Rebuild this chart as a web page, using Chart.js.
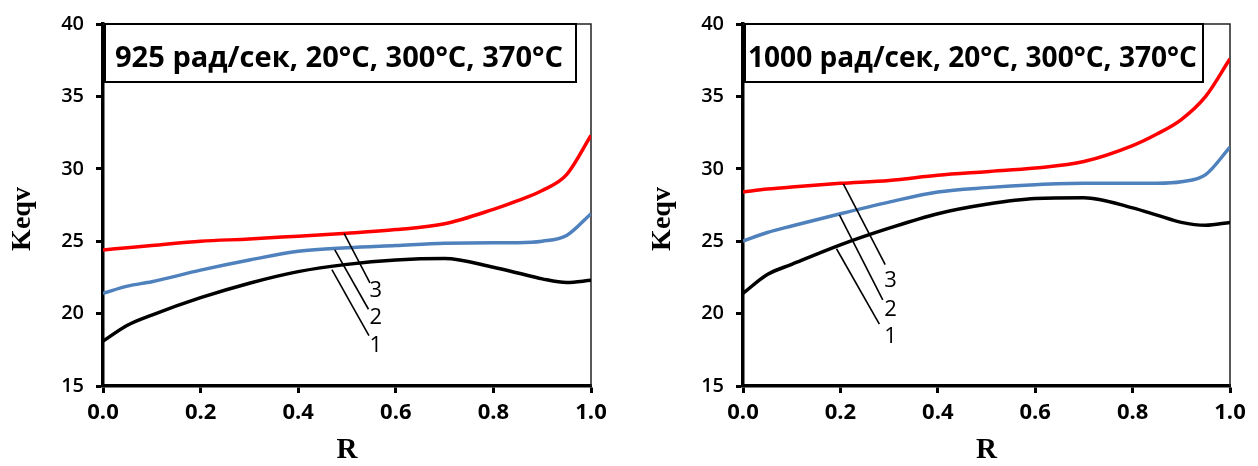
<!DOCTYPE html>
<html>
<head>
<meta charset="utf-8">
<script src="https://cdn.jsdelivr.net/npm/chart.js@4.4.1/dist/chart.umd.min.js"></script>
<style>
  html, body { margin: 0; padding: 0; background: #fff; }
  .wrap { position: absolute; top: 0; width: 629px; height: 466px; }
  #w1 { left: 0; }
  #w2 { left: 629px; }
</style>
</head>
<body>
<div class="wrap" id="w1"><canvas id="c925"></canvas></div>
<div class="wrap" id="w2"><canvas id="c1000"></canvas></div>
<script>
// R values shared by all curves
const R = [0, 0.05, 0.1, 0.2, 0.3, 0.4, 0.5, 0.6, 0.7, 0.8, 0.85, 0.9, 0.95, 1.0];

// 925 рад/сек
const k925_20  = [18.1, 19.2, 19.9, 21.1, 22.1, 22.9, 23.4, 23.7, 23.8, 23.2, 22.8, 22.4, 22.15, 22.3];
const k925_300 = [21.4, 21.9, 22.2, 23.0, 23.7, 24.3, 24.55, 24.7, 24.85, 24.9, 24.9, 25.0, 25.4, 26.9];
const k925_370 = [24.4, 24.55, 24.7, 25.0, 25.15, 25.35, 25.55, 25.8, 26.2, 27.2, 27.8, 28.5, 29.6, 32.3];

// 1000 рад/сек
const k1000_20  = [21.4, 22.7, 23.4, 24.75, 25.9, 26.9, 27.55, 27.95, 28.0, 27.3, 26.8, 26.3, 26.1, 26.3];
const k1000_300 = [25.0, 25.6, 26.05, 26.9, 27.7, 28.4, 28.7, 28.9, 29.0, 29.0, 29.0, 29.1, 29.6, 31.5];
const k1000_370 = [28.4, 28.6, 28.75, 29.0, 29.2, 29.55, 29.8, 30.05, 30.5, 31.6, 32.4, 33.4, 35.0, 37.6];

// leader lines: [R start, K start, R end, K end]  and label anchor [R, K]
const lead925  = [[0.469, 23.04, 0.545, 18.48], [0.475, 24.4, 0.544, 20.3], [0.494, 25.54, 0.547, 22.13]];
const lab925   = [[0.559, 17.8], [0.559, 19.73], [0.559, 21.56]];
const lead1000 = [[0.192, 24.48, 0.280, 19.28], [0.198, 26.82, 0.287, 20.95], [0.206, 28.96, 0.292, 23.38]];
const lab1000  = [[0.303, 18.37], [0.303, 20.24], [0.303, 22.24]];
const curveNames = ['1', '2', '3'];

const yMin = 15, yMax = 40, yStep = 5;
const xMin = 0, xMax = 1, xStep = 0.2;
const yTitle = 'Keqv', xTitle = 'R';

const COLORS = ['#000000', '#4f81bd', '#ff0000'];

const framePlugin = {
  id: 'frame',
  beforeDatasetsDraw(chart) {
    const { ctx, chartArea: a } = chart;
    ctx.save();
    ctx.strokeStyle = '#222';
    ctx.lineWidth = 1.5;
    ctx.beginPath();
    ctx.moveTo(a.left, a.top);
    ctx.lineTo(a.right, a.top);
    ctx.lineTo(a.right, a.bottom);
    ctx.stroke();
    ctx.restore();
  },
  afterDraw(chart) {
    // y axis title, sits a bit below the axis middle like the original
    const { ctx, chartArea: a } = chart;
    ctx.save();
    ctx.fillStyle = '#000';
    ctx.font = 'bold 28px "Liberation Serif"';
    ctx.textAlign = 'center';
    ctx.textBaseline = 'middle';
    ctx.translate(a.left - 80, (a.top + a.bottom) / 2 + 14);
    ctx.rotate(-Math.PI / 2);
    ctx.fillText(yTitle, 0, 0);
    ctx.restore();
  }
};

const boxPlugin = {
  id: 'infoBox',
  afterDatasetsDraw(chart, args, o) {
    const { ctx, chartArea: a } = chart;
    ctx.save();
    const x = a.left + o.dx, y = a.top;
    ctx.fillStyle = '#fff';
    ctx.fillRect(x, y, o.w, o.h);
    ctx.strokeStyle = '#000';
    ctx.lineWidth = 2;
    ctx.strokeRect(x, y, o.w, o.h);
    ctx.fillStyle = '#000';
    ctx.font = 'bold 29px "Open Sans"';
    ctx.textBaseline = 'alphabetic';
    const tw = ctx.measureText(o.text).width;
    ctx.translate(a.left + o.tx, y + 43);
    ctx.scale(o.textW / tw, 1);
    ctx.fillText(o.text, 0, 0);
    ctx.restore();
  }
};

const labelPlugin = {
  id: 'curveLabels',
  afterDatasetsDraw(chart, args, o) {
    const { ctx, scales: { x, y } } = chart;
    ctx.save();
    ctx.fillStyle = '#000';
    ctx.font = '22px "Open Sans"';
    ctx.textAlign = 'center';
    ctx.textBaseline = 'middle';
    o.pos.forEach((p, i) => {
      ctx.fillText(curveNames[i], x.getPixelForValue(p[0]), y.getPixelForValue(p[1]));
    });
    ctx.restore();
  }
};

function makeChart(id, series, leads, labs, box, yWidth, padRight) {
  const datasets = series.map((s, i) => ({
    data: R.map((r, j) => ({ x: r, y: s[j] })),
    borderColor: COLORS[i],
    borderWidth: 3.5,
    pointRadius: 0,
    cubicInterpolationMode: 'monotone',
    order: 2
  }));
  leads.forEach(l => datasets.push({
    data: [{ x: l[0], y: l[1] }, { x: l[2], y: l[3] }],
    borderColor: '#000',
    borderWidth: 1.6,
    pointRadius: 0,
    tension: 0,
    order: 1
  }));

  return new Chart(document.getElementById(id), {
    type: 'line',
    data: { datasets },
    options: {
      responsive: true,
      maintainAspectRatio: false,
      animation: false,
      layout: { padding: { top: 20, right: padRight, left: 0, bottom: 0 } },
      plugins: {
        legend: { display: false },
        tooltip: { enabled: false },
        infoBox: box,
        curveLabels: { pos: labs }
      },
      scales: {
        x: {
          type: 'linear',
          min: xMin, max: xMax,
          afterFit: s => { s.height = 80; },
          ticks: {
            stepSize: xStep,
            color: '#000',
            padding: 7,
            font: { family: 'Open Sans', size: 22, weight: 'bold' },
            callback: v => v.toFixed(1)
          },
          grid: { drawOnChartArea: false, tickLength: 7, tickWidth: 3, tickColor: '#000' },
          border: { display: true, color: '#000', width: 3.5 },
          title: {
            display: true, text: xTitle, color: '#000',
            padding: { bottom: -2, top: 0 },
            font: { family: 'Liberation Serif', size: 29, weight: 'bold' }
          }
        },
        y: {
          min: yMin, max: yMax,
          afterFit: s => { s.width = yWidth; },
          ticks: {
            stepSize: yStep,
            color: '#000',
            padding: 12,
            font: { family: 'Open Sans', size: 20, weight: '600' }
          },
          grid: { drawOnChartArea: false, tickLength: 7, tickWidth: 3, tickColor: '#000' },
          border: { display: true, color: '#000', width: 3.5 }
        }
      }
    },
    plugins: [framePlugin, boxPlugin, labelPlugin]
  });
}

makeChart('c925', [k925_20, k925_300, k925_370], lead925, lab925,
  { text: '925 рад/сек, 20°C, 300°C, 370°C', dx: 2, w: 471, h: 58, tx: 12, textW: 448 }, 103, 38);
makeChart('c1000', [k1000_20, k1000_300, k1000_370], lead1000, lab1000,
  { text: '1000 рад/сек, 20°C, 300°C, 370°C', dx: 2, w: 458, h: 58, tx: 5, textW: 449 }, 114, 28);
</script>
</body>
</html>
